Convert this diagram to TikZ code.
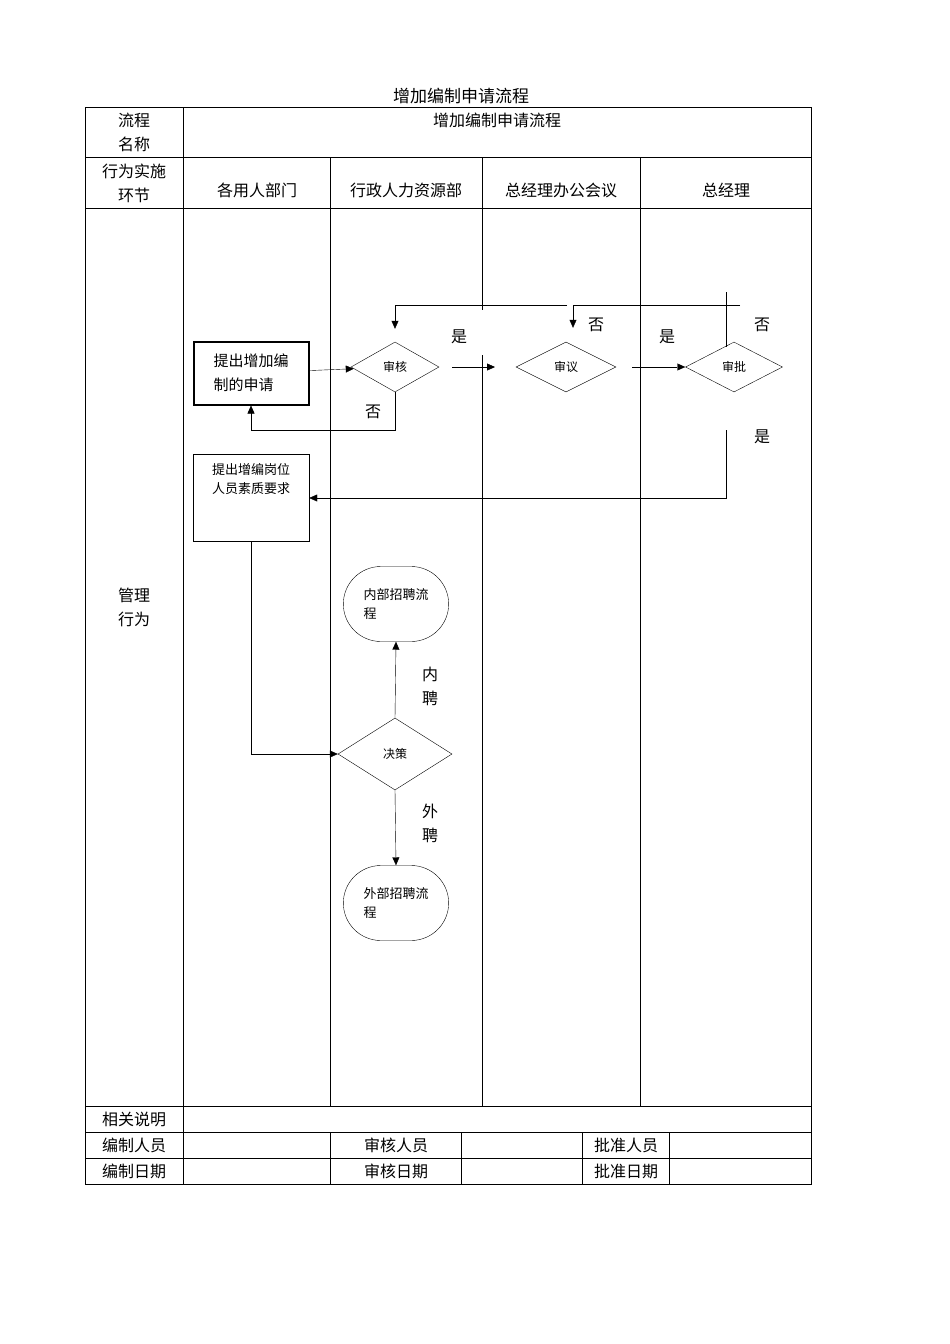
\documentclass[tikz,border=0pt]{standalone}
\usepackage{fontspec}
\setmainfont{Noto Sans CJK SC}
\usepackage{tikz}
\usetikzlibrary{positioning, calc, shapes, arrows.meta}

\begin{document}
\begin{tikzpicture}[x=1pt, y=-1pt, font=\fontsize{16}{24}\selectfont]
  \tikzstyle{coord}=[inner sep=0pt, outer sep=0pt]
  \tikzstyle{dec}=[draw, diamond, aspect=2, minimum width=100pt, minimum height=50pt, inner sep=0pt, font=\fontsize{12}{14}\selectfont]
  \tikzstyle{action}=[draw, rectangle, align=left, font=\fontsize{15}{24}\selectfont]
  \tikzstyle{term}=[draw, rounded rectangle, minimum width=112pt, minimum height=75pt, align=left, font=\fontsize{13}{19}\selectfont]
  \tikzstyle{flow}=[-{Triangle[length=8pt, width=7pt]}]
  \useasboundingbox (0,0) rectangle (950,1344);

  % table frame
  \node at (461,96) [font=\fontsize{17}{20}\selectfont] {增加编制申请流程};
  \draw[thick] (85,107) rectangle (811,1184);
  \foreach \y in {157,208,1106,1132,1158} {
    \draw (85,\y) -- (811,\y);
  }
  \draw (183,107) -- (183,1184);
  \foreach \x in {330,640} {
    \draw (\x,157) -- (\x,1106);
  }
  \draw (482,157) -- (482,310);
  \draw (482,355) -- (482,1106);
  \foreach \x in {330,461,582,669} {
    \draw (\x,1132) -- (\x,1184);
  }

  % header texts
  \node[align=center] at (134,132) {流程\\名称};
  \node at (497,120) {增加编制申请流程};
  \node[align=center] at (134,183) {行为实施\\环节};
  \node at (257,190) {各用人部门};
  \node at (406,190) {行政人力资源部};
  \node at (561,190) {总经理办公会议};
  \node at (726,190) {总经理};
  \node[align=center] at (134,607) {管理\\行为};
  \node at (134,1119) {相关说明};
  \node at (134,1145) {编制人员};
  \node at (396,1145) {审核人员};
  \node at (626,1145) {批准人员};
  \node at (134,1171) {编制日期};
  \node at (396,1171) {审核日期};
  \node at (626,1171) {批准日期};

  % flow nodes
  \node (apply) at (251,373) [action, line width=2pt, minimum width=115pt, minimum height=63pt] {提出增加编\\制的申请};
  \node (req) at (251,498) [action, minimum width=116pt, minimum height=87pt] {};
  \node (reqtext) at ($(req.north)+(0,6)$) [anchor=north, align=left, font=\fontsize{13}{19}\selectfont] {提出增编岗位\\人员素质要求};
  \node (check) at (395,367) [dec, minimum width=88pt] {审核};
  \node (review) at (566,367) [dec] {审议};
  \node (approve) at (734,367) [dec, minimum width=97pt] {审批};
  \node (decide) at (395,754) [dec, minimum width=114pt, minimum height=72pt] {决策};
  \node (inner) at (396,604) [term] {内部招聘流\\程};
  \node (outer) at (396,903) [term] {外部招聘流\\程};

  % helper points
  \coordinate (yesa) at (452,367);
  \coordinate (yesb) at (495,367);
  \coordinate (yesc) at (632,367);
  \coordinate (nob) at (567,305);
  \coordinate (noc) at (740,305);

  % connections
  \draw[flow] (apply) -- (check);
  \draw[flow] (check.south) |- ($(apply.south)+(0,25)$) -- (apply.south);
  \draw[flow] (yesa) -- (yesb);
  \draw[flow] (yesc) -- (approve);
  \draw[flow] (nob) -| ($(check.north)+(0,-13)$);
  \draw[flow] (noc) -| ($(review.north)+(7,-14)$);
  \draw ($(approve.north)+(-8,5)$) -- ++(0,-55);
  \draw[flow] ($(approve.south)+(-8,38)$) |- (req.east);
  \draw[flow] (req.south) |- (decide.west);
  \draw[flow] (decide.north) -- (inner.south);
  \draw[flow] (decide.south) -- (outer.north);

  % labels
  \node at (373,412) {否};
  \node at (459,337) {是};
  \node at (596,325) {否};
  \node at (667,337) {是};
  \node at (762,325) {否};
  \node at (762,437) {是};
  \node[align=center] at (430,686) {内\\聘};
  \node[align=center] at (430,823) {外\\聘};
\end{tikzpicture}
\end{document}
